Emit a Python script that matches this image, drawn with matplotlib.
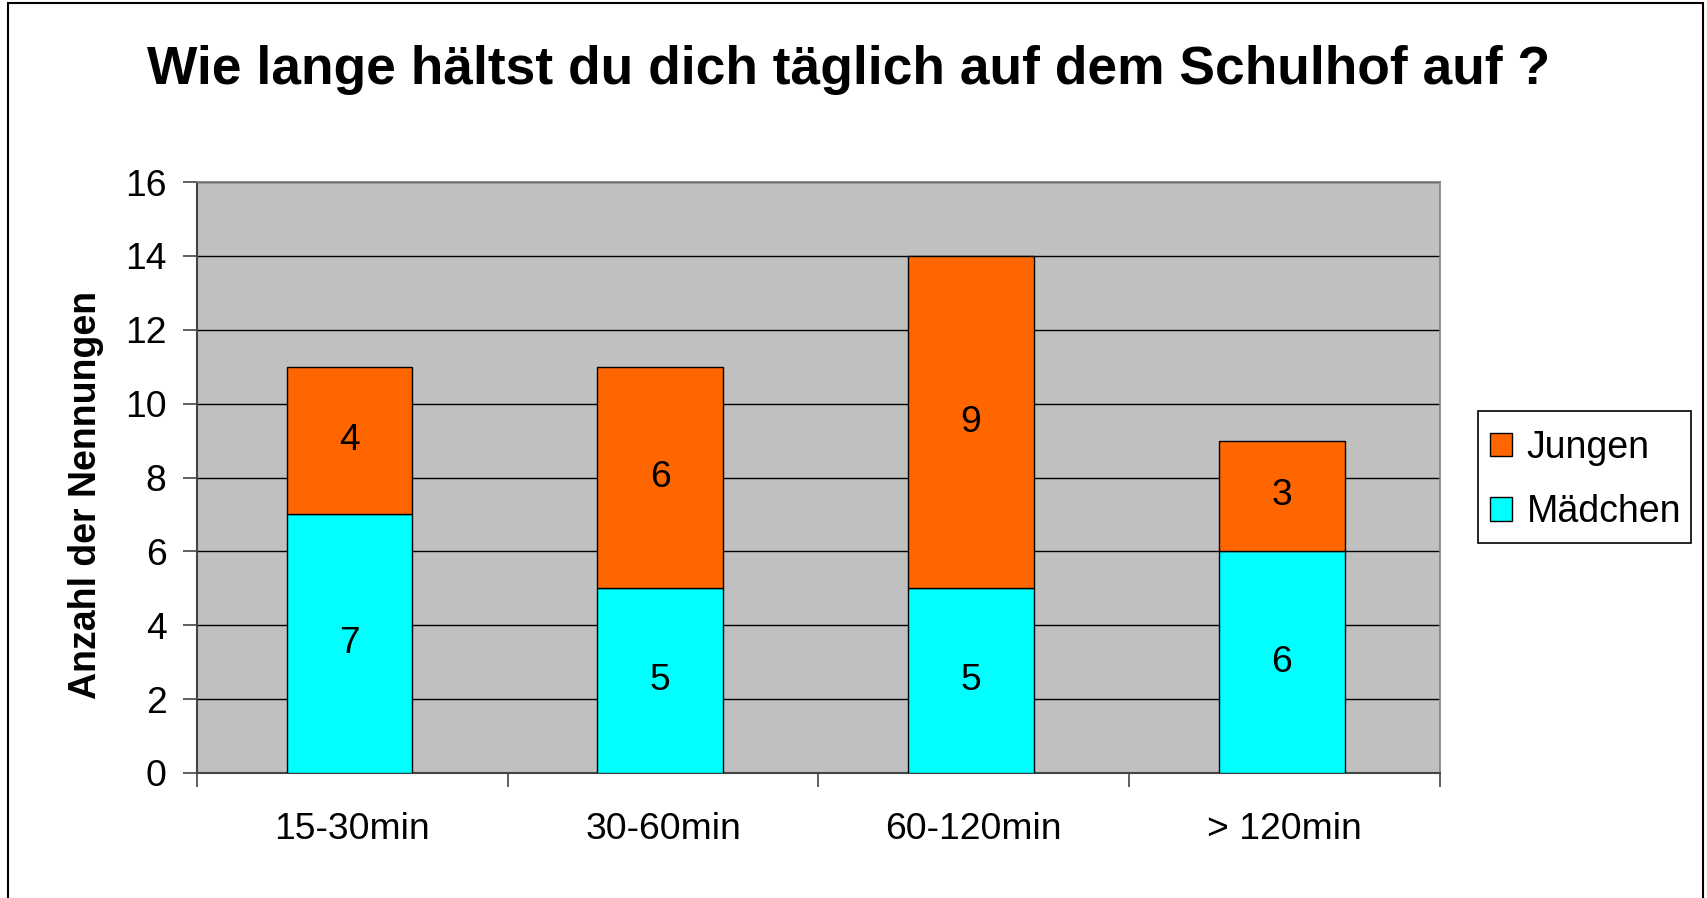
import matplotlib

matplotlib.use("Agg")
import matplotlib.pyplot as plt
from matplotlib.patches import Rectangle

# Survey answers per time slot
categories = ["15-30min", "30-60min", "60-120min", "> 120min"]
maedchen = [7, 5, 5, 6]
jungen = [4, 6, 9, 3]

plt.rcParams["font.family"] = ["Liberation Sans", "DejaVu Sans"]

ORANGE = "#FF6600"
CYAN = "#00FFFF"
FS = 26.8
W, H = 1708, 898

fig = plt.figure(figsize=(17.08, 8.98), dpi=100)
ax = fig.add_axes([0.1153, 0.1392, 0.7278, 0.6581])
ax.set_facecolor("#C0C0C0")

x = list(range(len(categories)))
xb = [i - 0.009 for i in x]
b1 = ax.bar(xb, maedchen, width=0.405, color=CYAN, edgecolor="black",
            linewidth=1.0, zorder=3, label="Mädchen")
b2 = ax.bar(xb, jungen, width=0.405, bottom=maedchen, color=ORANGE,
            edgecolor="black", linewidth=1.0, zorder=3, label="Jungen")
ax.bar_label(b1, label_type="center", fontsize=FS)
ax.bar_label(b2, label_type="center", fontsize=FS)

ax.set_xlim(-0.5, len(categories) - 0.5)
ax.set_ylim(0, 16)
ax.set_yticks(range(0, 17, 2))
ax.yaxis.grid(True, color="black", linewidth=1.0, zorder=1)
ax.set_axisbelow(True)

# boundaries get the tick marks, the centres carry the labels
ax.set_xticks([i - 0.5 for i in range(len(categories) + 1)])
ax.set_xticklabels([])
ax.set_xticks(x, minor=True)
ax.set_xticklabels(categories, minor=True, fontsize=FS)
ax.tick_params(axis="x", which="minor", length=0, pad=28)
ax.tick_params(axis="x", which="major", length=10, width=1.2, color="#444444")
ax.tick_params(axis="y", length=10, width=1.2, color="#444444", labelsize=FS, pad=12)

for side in ("top", "right"):
    ax.spines[side].set_color("#808080")
    ax.spines[side].set_linewidth(1.2)
for side in ("left", "bottom"):
    ax.spines[side].set_color("#444444")
    ax.spines[side].set_linewidth(1.5)

ax.set_ylabel("Anzahl der Nennungen", fontsize=27, fontweight="bold", labelpad=16)
ax.yaxis.set_label_coords(-0.075, 0.471)

fig.text(0.497, 0.922, "Wie lange hältst du dich täglich auf dem Schulhof auf ?",
         ha="center", va="center", fontsize=38.4, fontweight="bold")

# legend entries without frame; the box is drawn separately
leg = fig.legend([b2, b1], ["Jungen", "Mädchen"], loc="upper left",
                 bbox_to_anchor=((1478 - 6.5) / W, 1 - 411 / H), fontsize=27,
                 frameon=False, handlelength=0.57, handleheight=0.57,
                 handletextpad=0.4, labelspacing=0.76, borderpad=0.5,
                 borderaxespad=0)
fig.patches.append(Rectangle((1478 / W, 1 - 543 / H), 213 / W, 132 / H,
                             transform=fig.transFigure, fill=False,
                             edgecolor="black", linewidth=1.2))

# outer chart border (open at the bottom like the source)
fig.patches.append(Rectangle((8 / W, -0.05), (1703 - 8) / W, 1.05 - 3 / H,
                             transform=fig.transFigure, fill=False,
                             edgecolor="black", linewidth=1.5))

fig.savefig("out.png", dpi=100)
